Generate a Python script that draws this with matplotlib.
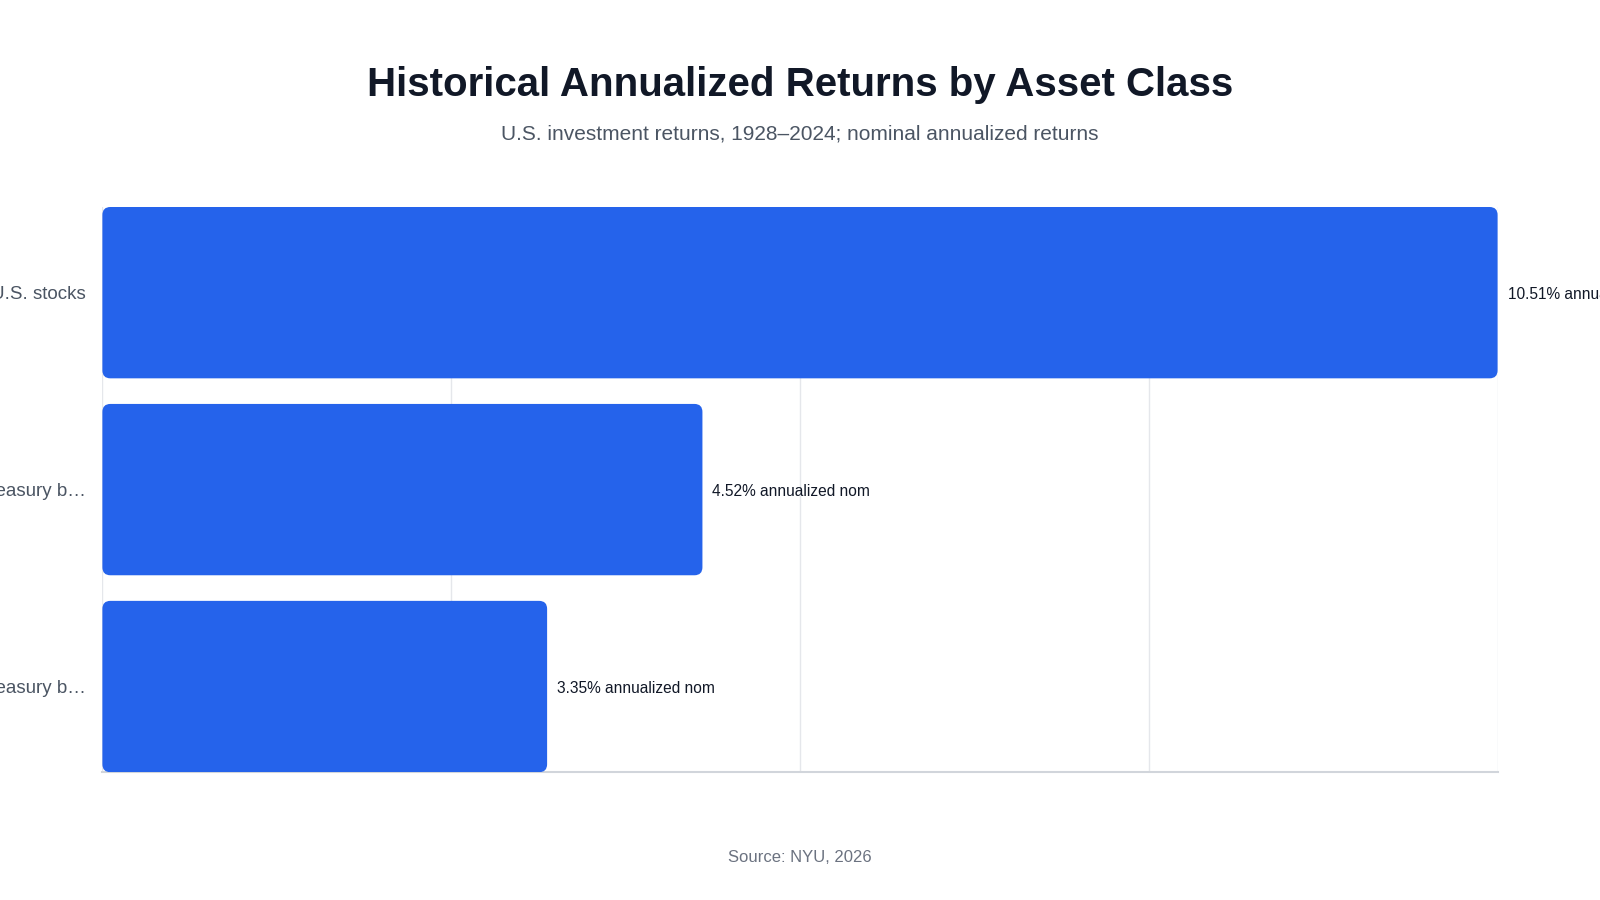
import matplotlib.pyplot as plt
from matplotlib.patches import FancyBboxPatch

# data
categories = ["U.S. stocks", "U.S. Treasury b\u2026", "U.S. Treasury b\u2026"]
returns = [10.51, 4.52, 3.35]
value_labels = ["10.51% annualized nominal", "4.52% annualized nom", "3.35% annualized nom"]

plt.rcParams['font.family'] = ['Liberation Sans', 'DejaVu Sans']

fig = plt.figure(figsize=(16, 9), dpi=100)
ax = fig.add_axes([0.064, 0.142, 0.872, 0.628])

y = list(range(len(categories)))
bar_h = 0.87
bars = ax.barh(y, returns, height=bar_h, color="#2563eb")

xmax = max(returns)
ax.set_xlim(0, xmax)
ax.set_ylim(len(categories) - 1 + bar_h / 2, -bar_h / 2)

# swap plain bars for rounded ones (radius ~8 px)
fig.canvas.draw()
p0 = ax.transData.transform((0, 0))
p1 = ax.transData.transform((1, 1))
px_x = 1 / abs(p1[0] - p0[0])
px_y = 1 / abs(p1[1] - p0[1])
for b in bars:
    b.set_visible(False)
    r = FancyBboxPatch((b.get_x(), b.get_y()), b.get_width(), b.get_height(),
                       boxstyle="round,pad=0,rounding_size=%f" % (8 * px_x),
                       mutation_aspect=px_y / px_x,
                       facecolor="#2563eb", edgecolor="none", zorder=3)
    ax.add_patch(r)

for yi, v, lab in zip(y, returns, value_labels):
    ax.text(v + 10 * px_x, yi + 2 * px_y, lab, va="center", ha="left", fontsize=11.2,
            color="#111827", clip_on=False)

ax.set_xticks([xmax * k / 4 for k in range(5)])
ax.set_xticklabels([])
ax.tick_params(axis="x", length=0)
ax.grid(axis="x", color="#e5e7eb", linewidth=1)
ax.set_axisbelow(True)

ax.set_yticks(y)
ax.set_yticklabels(categories, fontsize=13.5, color="#4b5563")
ax.tick_params(axis="y", length=0, pad=12)

for s in ["top", "right", "left"]:
    ax.spines[s].set_visible(False)
ax.spines["bottom"].set_color("#d1d5db")
ax.spines["bottom"].set_linewidth(1.5)

fig.text(0.5, 1 - 85 / 900, "Historical Annualized Returns by Asset Class",
         ha="center", va="center", fontsize=29, fontweight="bold", color="#111827")
fig.text(0.5, 1 - 134 / 900, "U.S. investment returns, 1928\u20132024; nominal annualized returns",
         ha="center", va="center", fontsize=15, color="#4b5563")
fig.text(0.5, 1 - 857 / 900, "Source: NYU, 2026",
         ha="center", va="center", fontsize=12, color="#6b7280")

fig.savefig("out.png", dpi=100)
